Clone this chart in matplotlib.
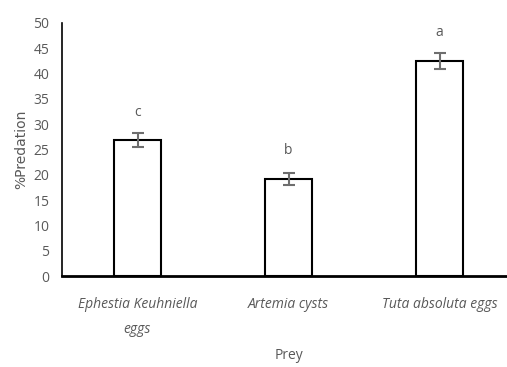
import matplotlib
matplotlib.use("Agg")
import matplotlib.pyplot as plt

categories = ["Ephestia Keuhniella\neggs", "Artemia cysts", "Tuta absoluta eggs"]
predation = [26.8, 19.2, 42.5]
errors = [1.4, 1.25, 1.6]
letters = ["c", "b", "a"]
yticks = [0, 5, 10, 15, 20, 25, 30, 35, 40, 45, 50]

plt.rcParams["font.family"] = ["Open Sans", "DejaVu Sans"]
gray = "#595959"

fig = plt.figure(figsize=(5.07, 3.67), dpi=100)
ax = fig.add_axes([62 / 507, 91 / 367, 453 / 507, 253 / 367])

x = list(range(len(categories)))
ax.bar(x, predation, width=0.31, color="white", edgecolor="black", linewidth=1.5, zorder=2)
ax.errorbar(x, predation, yerr=errors, fmt="none", ecolor="#6e6e6e",
            elinewidth=1.5, capsize=4, capthick=1.5, zorder=3)

# significance letters sit a fixed distance above each bar
for xi, v, lab in zip(x, predation, letters):
    ax.annotate(lab, (xi, v), xytext=(0, 15), textcoords="offset points",
                ha="center", va="bottom", color=gray, fontsize=10)

ax.set_xlim(-0.5, 2.5)
ax.set_ylim(0, 50)
ax.set_yticks(yticks)
ax.set_xticks(x)
ax.set_xticklabels(categories, style="italic", color=gray, fontsize=10,
                   linespacing=1.9)
ax.tick_params(axis="both", length=0, labelsize=10, colors=gray)
ax.tick_params(axis="x", pad=15)
ax.tick_params(axis="y", pad=9)

for s in ["top", "right"]:
    ax.spines[s].set_visible(False)
ax.spines["left"].set_linewidth(1.2)
ax.spines["left"].set_color("black")
ax.spines["bottom"].set_linewidth(2)
ax.spines["bottom"].set_color("black")

ax.set_ylabel("%Predation", color=gray, fontsize=10, family=["DejaVu Sans"], labelpad=4)
ax.set_xlabel("Prey", color=gray, fontsize=10, labelpad=8)

fig.savefig("out.png", dpi=100)
